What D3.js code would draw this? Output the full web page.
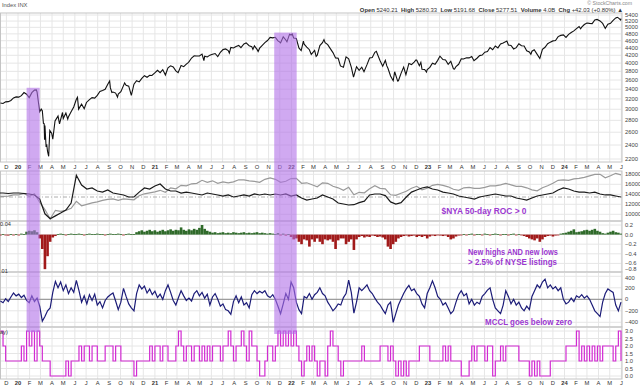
<!DOCTYPE html>
<html><head><meta charset="utf-8">
<script src="https://cdn.jsdelivr.net/npm/d3@7"></script>
<style>
body{margin:0;background:#fff}
svg{display:block}
text{font-family:"Liberation Sans",Arial,sans-serif}
</style></head>
<body><svg id="c" width="640" height="388"></svg>
<script>
// ---------------- DATA ----------------
const priceData = [
["2019-11-15",3120],["2019-11-22",3110],["2019-11-29",3141],["2019-12-06",3146],["2019-12-13",3169],["2019-12-20",3221],["2019-12-27",3240],
["2020-01-03",3235],["2020-01-10",3265],["2020-01-17",3330],["2020-01-24",3295],["2020-01-31",3226],["2020-02-07",3328],["2020-02-14",3380],["2020-02-19",3386],["2020-02-21",3338],["2020-02-28",2954],["2020-03-03",3003],["2020-03-06",2972],["2020-03-09",2746],["2020-03-11",2741],["2020-03-12",2481],["2020-03-13",2711],["2020-03-16",2386],["2020-03-18",2398],["2020-03-20",2305],["2020-03-23",2237],["2020-03-26",2630],["2020-03-31",2585],["2020-04-03",2489],["2020-04-09",2790],["2020-04-17",2875],["2020-04-21",2737],["2020-04-29",2940],["2020-05-01",2831],["2020-05-08",2930],["2020-05-13",2820],["2020-05-15",2864],["2020-05-22",2955],["2020-05-29",3044],["2020-06-05",3194],["2020-06-08",3232],["2020-06-11",3002],["2020-06-19",3098],["2020-06-26",3009],["2020-07-02",3130],["2020-07-10",3185],["2020-07-17",3225],["2020-07-24",3216],["2020-07-31",3271],["2020-08-07",3351],["2020-08-14",3373],["2020-08-21",3397],["2020-08-28",3508],["2020-09-02",3580],["2020-09-04",3427],["2020-09-08",3332],["2020-09-11",3341],["2020-09-18",3319],["2020-09-23",3237],["2020-09-25",3298],["2020-10-02",3348],["2020-10-09",3477],["2020-10-12",3534],["2020-10-16",3484],["2020-10-23",3465],["2020-10-30",3270],["2020-11-06",3509],["2020-11-13",3585],["2020-11-20",3558],["2020-11-27",3638],["2020-12-04",3699],["2020-12-11",3663],["2020-12-18",3709],["2020-12-24",3703],["2020-12-31",3756],
["2021-01-08",3825],["2021-01-15",3768],["2021-01-22",3841],["2021-01-29",3714],["2021-02-05",3887],["2021-02-12",3934],["2021-02-19",3907],["2021-02-26",3811],["2021-03-04",3768],["2021-03-12",3943],["2021-03-19",3913],["2021-03-26",3975],["2021-04-01",4020],["2021-04-09",4129],["2021-04-16",4185],["2021-04-23",4180],["2021-04-30",4181],["2021-05-07",4232],["2021-05-12",4063],["2021-05-14",4174],["2021-05-21",4156],["2021-05-28",4204],["2021-06-04",4230],["2021-06-11",4247],["2021-06-18",4166],["2021-06-25",4281],["2021-07-02",4352],["2021-07-09",4370],["2021-07-16",4327],["2021-07-19",4258],["2021-07-23",4412],["2021-07-30",4395],["2021-08-06",4437],["2021-08-13",4468],["2021-08-19",4406],["2021-08-27",4509],["2021-09-02",4537],["2021-09-10",4459],["2021-09-17",4433],["2021-09-20",4358],["2021-09-24",4455],["2021-10-01",4357],["2021-10-04",4300],["2021-10-08",4391],["2021-10-15",4471],["2021-10-22",4545],["2021-10-29",4605],["2021-11-05",4697],["2021-11-12",4683],["2021-11-19",4698],["2021-11-26",4595],["2021-11-30",4567],["2021-12-03",4538],["2021-12-10",4712],["2021-12-17",4620],["2021-12-20",4568],["2021-12-27",4791],["2021-12-31",4766],
["2022-01-03",4797],["2022-01-07",4677],["2022-01-14",4662],["2022-01-21",4398],["2022-01-27",4326],["2022-02-02",4589],["2022-02-04",4501],["2022-02-11",4418],["2022-02-18",4349],["2022-02-23",4225],["2022-03-04",4329],["2022-03-08",4170],["2022-03-11",4204],["2022-03-18",4463],["2022-03-25",4543],["2022-03-29",4632],["2022-04-01",4546],["2022-04-08",4488],["2022-04-14",4393],["2022-04-22",4272],["2022-04-29",4132],["2022-05-06",4123],["2022-05-12",3930],["2022-05-20",3901],["2022-05-27",4158],["2022-06-03",4109],["2022-06-10",3901],["2022-06-16",3667],["2022-06-24",3912],["2022-07-01",3825],["2022-07-08",3899],["2022-07-14",3790],["2022-07-22",3962],["2022-07-29",4130],["2022-08-05",4145],["2022-08-12",4280],["2022-08-16",4305],["2022-08-19",4228],["2022-08-26",4058],["2022-09-02",3924],["2022-09-09",4067],["2022-09-13",3932],["2022-09-16",3873],["2022-09-23",3693],["2022-09-30",3586],["2022-10-04",3791],["2022-10-12",3577],["2022-10-14",3583],["2022-10-21",3753],["2022-10-28",3901],["2022-11-03",3720],["2022-11-11",3993],["2022-11-18",3965],["2022-11-25",4026],["2022-11-30",4080],["2022-12-02",4072],["2022-12-09",3934],["2022-12-13",4019],["2022-12-16",3852],["2022-12-23",3845],["2022-12-28",3783],["2022-12-30",3840],
["2023-01-06",3895],["2023-01-13",3999],["2023-01-20",3972],["2023-01-27",4070],["2023-02-02",4179],["2023-02-10",4090],["2023-02-17",4079],["2023-02-24",3970],["2023-03-03",4046],["2023-03-10",3862],["2023-03-13",3855],["2023-03-17",3917],["2023-03-24",3971],["2023-03-31",4109],["2023-04-06",4105],["2023-04-14",4138],["2023-04-21",4133],["2023-04-28",4169],["2023-05-04",4061],["2023-05-12",4124],["2023-05-19",4192],["2023-05-26",4205],["2023-06-02",4282],["2023-06-09",4299],["2023-06-16",4410],["2023-06-23",4348],["2023-06-30",4450],["2023-07-07",4399],["2023-07-14",4505],["2023-07-21",4536],["2023-07-31",4589],["2023-08-04",4478],["2023-08-11",4464],["2023-08-18",4370],["2023-08-25",4406],["2023-09-01",4515],["2023-09-08",4457],["2023-09-15",4450],["2023-09-22",4320],["2023-09-29",4288],["2023-10-03",4229],["2023-10-06",4308],["2023-10-12",4349],["2023-10-20",4224],["2023-10-27",4117],["2023-11-03",4358],["2023-11-10",4415],["2023-11-17",4514],["2023-11-24",4559],["2023-12-01",4595],["2023-12-08",4604],["2023-12-15",4719],["2023-12-22",4755],["2023-12-29",4770],
["2024-01-05",4697],["2024-01-12",4784],["2024-01-19",4840],["2024-01-26",4891],["2024-02-02",4959],["2024-02-09",5027],["2024-02-13",4953],["2024-02-16",5006],["2024-02-23",5089],["2024-03-01",5137],["2024-03-08",5124],["2024-03-15",5117],["2024-03-22",5234],["2024-03-28",5254],["2024-04-05",5204],["2024-04-12",5123],["2024-04-19",4967],["2024-04-26",5100],["2024-05-03",5128],["2024-05-10",5223],["2024-05-17",5303],["2024-05-21",5321],["2024-05-24",5305],["2024-05-30",5236],["2024-05-31",5278]
];

// biweekly series starting 2019-11-08
const nyaValues = [13550,13600,13650,13900,13900,14180,13600,14100,12380,10950,
9100,10800,10600,10800,11200,12600,11700,12000,12300,12500,
12800,13000,13100,12800,13100,13000,12900,13700,14100,14300,
14500,14800,14400,15300,15100,15800,15700,16100,16200,16800,
16400,16700,16200,16500,16300,16500,16900,16900,16700,16600,
16400,17000,17300,17000,16400,16600,17150,17200,16200,16300,
15900,15500,16300,16200,15600,15300,14800,15400,13900,14400,
14300,15100,15700,15200,15100,13900,13800,14200,14600,15200,
15600,14900,15200,15800,16000,15800,15500,15000,14800,15300,
15400,15200,15200,15400,15700,15700,15900,16200,15900,15600,
15600,15300,14900,14700,15300,15700,16200,16800,16900,16800,
17100,17200,17400,17700,18000,18000,17300,17700,18200,17900];
const rocValues = [5.7,5.7,5,5.7,5.7,5,4.3,2.9,-2.9,-24,
-31,-27,-23,-18.6,-8.6,31,17,11.4,12.9,8.6,
7,10,5.7,4.3,2.9,0,0,7,12.9,11.4,
15.7,18.6,11.4,8.6,8.6,5.7,7,5.7,4.3,2.9,
5.7,4.3,2.9,1.4,2.9,0,1.4,2.9,1.4,4.3,
2.9,4.3,2.9,4.3,2.9,4.3,1.4,2.9,-1.4,-4.3,
-2.9,-1.4,2.9,0,-2.9,-8.6,-10,-11.4,-11,-8,
-6,2.9,4.3,4.3,2,-7,-10,-8,0,7,
10,12.9,14.3,11.4,10,7,5.7,4.3,1.4,0,
-1.4,-2.9,0,1.4,2.9,4.3,2.9,1.4,1.4,-1.4,
-2.9,-4.3,-1.4,1.4,2.9,4.3,5.7,10,12.9,11.4,
8.6,7,7,5.7,7,4.3,2.9,2.9,1.4,0];

// weekly series starting 2019-11-15
const hiloValues = [-0.01,0.01,-0.01,-0.02,0.01,-0.01,0.01,-0.01,0.02,0.01,
0.06,0.08,0.07,0.09,0.05,
-0.08,-0.3,-0.72,-0.45,-0.15,-0.06,-0.03,
0.01,0.02,0.01,-0.01,0.01,0.02,0.01,0.01,0.02,0.01,-0.01,0.01,0.02,0.01,0.01,0.02,0.01,0.01,-0.01,0.01,0.02,0.01,0.01,0.02,0.01,-0.01,0.01,0.02,0.01,0.01,
0.05,0.07,0.09,0.06,0.08,0.1,0.07,0.09,0.06,0.08,0.1,0.07,0.09,0.11,0.08,0.1,0.09,0.15,0.1,0.08,0.11,0.09,0.12,0.1,0.14,0.2,0.12,0.08,0.06,
0.04,0.05,0.03,0.04,0.05,0.03,0.04,0.03,0.05,0.04,0.03,0.04,0.05,0.03,0.04,0.03,0.04,0.05,0.03,0.04,0.03,0.02,0.03,
0.02,0.01,0.03,-0.01,0.02,-0.02,0.01,
-0.05,-0.1,-0.08,-0.15,-0.2,-0.1,-0.12,-0.25,-0.1,-0.15,-0.08,
-0.15,-0.2,-0.1,-0.12,
-0.1,-0.15,-0.3,-0.12,-0.08,
-0.08,-0.2,-0.15,-0.1,-0.32,-0.1,
-0.05,-0.03,-0.06,-0.04,-0.05,-0.02,-0.03,-0.05,-0.04,-0.06,-0.1,
-0.25,-0.3,-0.2,-0.15,-0.08,-0.05,
-0.03,-0.02,-0.04,-0.03,-0.02,-0.05,-0.03,
-0.05,-0.03,-0.08,-0.04,-0.02,-0.03,-0.01,-0.02,-0.03,-0.02,
-0.05,-0.1,-0.08,-0.04,-0.02,-0.01,
0.01,-0.01,0.01,0.02,-0.01,0.01,0.01,-0.01,0.02,0.01,-0.01,0.01,0.02,0.01,-0.01,0.01,0.01,-0.01,0.01,0.02,-0.01,0.01,-0.01,
-0.03,-0.05,-0.08,-0.1,-0.12,-0.08,-0.15,-0.1,-0.05,-0.03,-0.02,-0.04,-0.02,-0.01,
0.02,0.03,0.04,0.06,0.08,0.11,0.05,0.06,0.07,0.09,0.1,0.08,0.1,0.12,0.08,0.06,0.03,0.02,0.04,0.06,0.08,0.05,0.04,0.02];

const mcclValues = [-30,-60,10,-40,40,110,60,90,30,70,
-20,-60,60,-40,20,-120,-380,-300,-200,-150,
120,310,200,300,150,250,100,200,120,330,
150,-50,60,-80,80,-20,90,-100,-40,-150,
-20,40,80,110,-30,-180,-50,190,50,-80,
-150,-200,100,250,180,230,110,180,80,140,
30,90,0,150,250,120,-20,-100,30,150,
60,-20,20,-30,100,150,60,120,20,90,
-100,40,100,0,-120,-80,-180,-200,-260,-40,
60,-60,40,-100,-60,-150,80,150,100,140,
110,150,60,30,80,0,-120,-250,-80,100,
0,300,200,-50,-180,-250,50,20,100,0,
80,120,200,100,60,-50,-120,-200,-150,-80,
-100,30,100,335,120,-240,-50,200,150,200,
250,150,100,20,-50,-100,-180,-250,-100,-50,
-400,-250,-100,0,100,180,240,150,180,100,
50,-80,-150,100,200,320,200,50,0,-100,
-60,-150,-250,-200,-50,80,150,60,100,-80,
0,-100,-50,-80,50,100,160,200,0,-150,
-200,-250,-100,150,50,-80,0,-100,-50,-150,
-200,-120,-180,50,150,250,200,300,350,200,
250,180,220,150,200,0,-80,-50,20,-40,
60,30,80,20,60,0,-100,-200,-250,-300,
-50,100,180,150,120,-100,-200,-50];

const stepValues = [3,2,1,1,1,1,1,1,2,1,
3,2,3,1,3,2,1,1,1,0,
0,0,0,0,0,1,0,1,1,1,
2,1,2,2,1,2,2,1,1,1,
2,2,2,1,2,2,1,1,1,1,
1,0,1,1,1,1,1,2,1,2,
2,1,2,2,1,1,1,2,3,2,
1,2,2,1,2,2,1,2,1,2,
1,2,2,2,1,2,2,3,2,1,
2,2,3,2,1,3,2,2,1,0,
0,1,2,2,1,2,3,2,3,2,
3,2,3,2,1,0,1,2,1,2,
1,0,1,1,0,2,3,2,2,1,
0,1,1,1,1,1,1,1,2,1,
1,1,1,1,1,2,2,2,1,2,
1,0,1,0,1,0,1,1,1,1,
2,2,2,2,1,1,1,1,1,2,
1,2,1,1,1,1,0,0,0,1,
2,1,2,2,2,1,2,2,0,1,
1,2,1,2,2,2,2,2,1,1,
1,1,0,1,0,1,0,0,0,0,
1,1,1,1,1,1,2,2,2,2,
3,1,2,1,2,1,2,1,2,1,
2,2,2,2,1,2,3,1];

const priceTicks = [5400,5200,5000,4800,4600,4400,4200,4000,3800,3600,3400,3200,3000,2800,2600,2400,2200];
const nyaTicks = [18000,16000,14000,12000,10000];
const hiloTicks = [0.2,0.0,-0.2,-0.4,-0.6,-0.8];
const mcclTicks = [400,200,0,-200,-400];
const stepTicks = [3.0,2.5,2.0,1.5,1.0,0.5,0.0];
const highlights = [
  {start:"2020-01-24", end:"2020-02-28", topPrice:3430, bottomStep:2.93},
  {start:"2021-11-16", end:"2022-01-15", topPrice:4840, bottomStep:2.8}
];
const notes = [
  {panel:1, lines:["$NYA 50-day ROC > 0"]},
  {panel:2, lines:["New highs AND new lows","> 2.5% of NYSE listings"]},
  {panel:3, lines:["MCCL goes below zero"]}
];

// ---------------- CHART ----------------
const svg = d3.select("#c");
const plotL = 0, plotR = 622;
const parse = d3.timeParse("%Y-%m-%d");
const x = d3.scaleTime().domain([new Date(2020,0,1), new Date(2024,0,1)]).range([18,564.5]);
const weekStart = new Date(2019,10,15), biStart = new Date(2019,10,8);
const weekDate = i => d3.timeDay.offset(weekStart, 7*i);
const biDate = i => d3.timeDay.offset(biStart, 14*i);

const panels = [{top:13,bottom:162},{top:171,bottom:221},{top:221,bottom:272},{top:272,bottom:327},{top:327,bottom:379}];
const yPrice = d3.scaleLog().domain([2200,5400]).range([159,15]);
const yNya = d3.scaleLinear().domain([10000,18000]).range([214.3,174.3]);
const yRoc = d3.scaleLinear().domain([0,30]).range([197,176]);
const yHilo = d3.scaleLinear().domain([0,0.2]).range([234.6,225]);
const yMccl = d3.scaleLinear().domain([0,400]).range([299.3,276.3]);
const yStep = d3.scaleLinear().domain([0,3]).range([376,331]);
const yScales = [yPrice,yNya,yHilo,yMccl,yStep];
const tickSets = [priceTicks,nyaTicks,hiloTicks,mcclTicks,stepTicks];
const tickFmt = [d3.format("d"),d3.format("d"),d3.format(".1f"),d3.format("d"),d3.format(".1f")];
// nudge for the two labels that sit on the shared border of panels 3 and 4
const labelNudge = (k,d) => (k===2 && d===-0.8) ? -3.6 : (k===3 && d===400) ? 1.6 : 0;

const months = d3.timeMonth.range(new Date(2019,10,1), new Date(2024,6,1)).filter(d => x(d) >= plotL && x(d) <= plotR);
const defs = svg.append("defs");

panels.forEach((p,k) => {
  defs.append("clipPath").attr("id","clip"+k).append("rect")
    .attr("x",plotL).attr("y",p.top).attr("width",plotR-plotL).attr("height",p.bottom-p.top);
  const g = svg.append("g");
  g.selectAll("line.v").data(months).join("line")
    .attr("x1",d=>x(d)).attr("x2",d=>x(d)).attr("y1",p.top).attr("y2",p.bottom)
    .attr("stroke","#e6e6e6").attr("stroke-width",1);
  g.selectAll("line.h").data(tickSets[k].filter(t => yScales[k](t) > p.top+0.5 && yScales[k](t) < p.bottom-0.5)).join("line")
    .attr("x1",plotL).attr("x2",plotR).attr("y1",d=>yScales[k](d)).attr("y2",d=>yScales[k](d))
    .attr("stroke","#e6e6e6").attr("stroke-width",1);
  g.selectAll("text").data(tickSets[k]).join("text")
    .attr("x",625).attr("y",d=>yScales[k](d)+labelNudge(k,d)).attr("dy","0.35em")
    .attr("font-size",5.8).attr("fill","#444").text(d=>tickFmt[k](d));
  g.append("rect").attr("x",plotL+0.5).attr("y",p.top).attr("width",plotR-plotL-0.5).attr("height",p.bottom-p.top)
    .attr("fill","none").attr("stroke","#c4c4c4").attr("stroke-width",1);
});

// month label rows
[168.7,385.4].forEach(yy => {
  svg.append("g").selectAll("text").data(months).join("text")
    .attr("x",d=>x(d)).attr("y",yy).attr("text-anchor","middle")
    .attr("font-size",5.8).attr("fill","#333")
    .attr("font-weight",d=>d.getMonth()===0?"bold":"normal")
    .text(d=>d.getMonth()===0 ? d3.timeFormat("%y")(d) : d3.timeFormat("%b")(d)[0]);
});

// Panel 1: price
svg.append("path").attr("clip-path","url(#clip0)")
  .datum(priceData.map(d=>({date:parse(d[0]),v:d[1]})))
  .attr("d",d3.line().x(d=>x(d.date)).y(d=>yPrice(d.v)))
  .attr("fill","none").attr("stroke","#111").attr("stroke-width",1.1);

// Panel 2: NYA and ROC
svg.append("line").attr("x1",plotL).attr("x2",plotR).attr("y1",yRoc(0)).attr("y2",yRoc(0))
  .attr("stroke","#999").attr("stroke-width",0.8).attr("stroke-dasharray","4,2,1,2");
svg.append("path").attr("clip-path","url(#clip1)")
  .datum(nyaValues.map((v,i)=>({date:biDate(i),v})))
  .attr("d",d3.line().x(d=>x(d.date)).y(d=>yNya(d.v)))
  .attr("fill","none").attr("stroke","#9a9a9a").attr("stroke-width",1.2);
svg.append("path").attr("clip-path","url(#clip1)")
  .datum(rocValues.map((v,i)=>({date:biDate(i),v})))
  .attr("d",d3.line().x(d=>x(d.date)).y(d=>yRoc(d.v)))
  .attr("fill","none").attr("stroke","#1a1a1a").attr("stroke-width",1.2);

// Panel 3: histogram
const bw = x(weekDate(1)) - x(weekDate(0));
svg.append("g").attr("clip-path","url(#clip2)").selectAll("rect")
  .data(hiloValues.map((v,i)=>({date:weekDate(i),v}))).join("rect")
  .attr("x",d=>x(d.date)-bw/2).attr("width",bw)
  .attr("y",d=>Math.min(yHilo(d.v),yHilo(0)))
  .attr("height",d=>Math.max(0.8,Math.abs(yHilo(d.v)-yHilo(0))))
  .attr("fill",d=>d.v>=0?"#2f6a2a":"#a11a1a");

// Panel 4: MCCL
svg.append("line").attr("x1",plotL).attr("x2",plotR).attr("y1",yMccl(0)).attr("y2",yMccl(0))
  .attr("stroke","#8a8a8a").attr("stroke-width",1);
svg.append("path").attr("clip-path","url(#clip3)")
  .datum(mcclValues.map((v,i)=>({date:weekDate(i),v})))
  .attr("d",d3.line().x(d=>x(d.date)).y(d=>yMccl(d.v)))
  .attr("fill","none").attr("stroke","#1c1c78").attr("stroke-width",1.2);

// Panel 5: step
svg.append("path").attr("clip-path","url(#clip4)")
  .datum(stepValues.map((v,i)=>({date:weekDate(i),v})))
  .attr("d",d3.line().x(d=>x(d.date)).y(d=>yStep(d.v)).curve(d3.curveStepAfter))
  .attr("fill","none").attr("stroke","#d22bd2").attr("stroke-width",1.2);

// highlight boxes
svg.append("g").selectAll("rect").data(highlights).join("rect")
  .attr("x",d=>x(parse(d.start))).attr("width",d=>x(parse(d.end))-x(parse(d.start)))
  .attr("y",d=>yPrice(d.topPrice)).attr("height",d=>yStep(d.bottomStep)-yPrice(d.topPrice))
  .attr("fill","#b070e8").attr("opacity",0.6);

// annotations
const notePos = [null,{x:441.5,y:[213.5],w:[85]},{x:468,y:[255,265],w:[90,89]},{x:485,y:[324.5],w:[87]}];
notes.forEach(n => {
  const pp = notePos[n.panel];
  n.lines.forEach((t,j) => {
    svg.append("text").attr("x",pp.x).attr("y",pp.y[j]).attr("font-size",8.6).attr("font-weight","bold")
      .attr("fill","#9b38d0").attr("textLength",pp.w[j]).attr("lengthAdjust","spacingAndGlyphs").text(t);
  });
});

// header texts
svg.append("text").attr("x",2).attr("y",6.8).attr("font-size",5.8).attr("fill","#555").text("Index INX");
svg.append("text").attr("x",632).attr("y",5.2).attr("text-anchor","end").attr("font-size",5.2).attr("fill","#888").text("© StockCharts.com");
const hdr = svg.append("text").attr("x",623).attr("y",12).attr("text-anchor","end").attr("font-size",5.9).attr("fill","#333").attr("style","white-space:pre");
[["Open ","bold"],["5240.21  ","normal"],["High ","bold"],["5280.33  ","normal"],["Low ","bold"],["5191.68  ","normal"],["Close ","bold"],["5277.51  ","normal"],["Volume ","bold"],["4.0B  ","normal"],["Chg ","bold"],["+42.03 (+0.80%) ▲","normal"]]
  .forEach(s => hdr.append("tspan").attr("font-weight",s[1]).text(s[0]));

// clipped panel title fragments
svg.append("text").attr("x",0).attr("y",225.5).attr("font-size",5.6).attr("fill","#333").text("0.04");
svg.append("text").attr("x",0).attr("y",272.5).attr("font-size",5.6).attr("fill","#333").text(".01");
svg.append("text").attr("x",0).attr("y",333.5).attr("font-size",5.6).attr("fill","#333").text("ay)");
</script>
</body></html>
